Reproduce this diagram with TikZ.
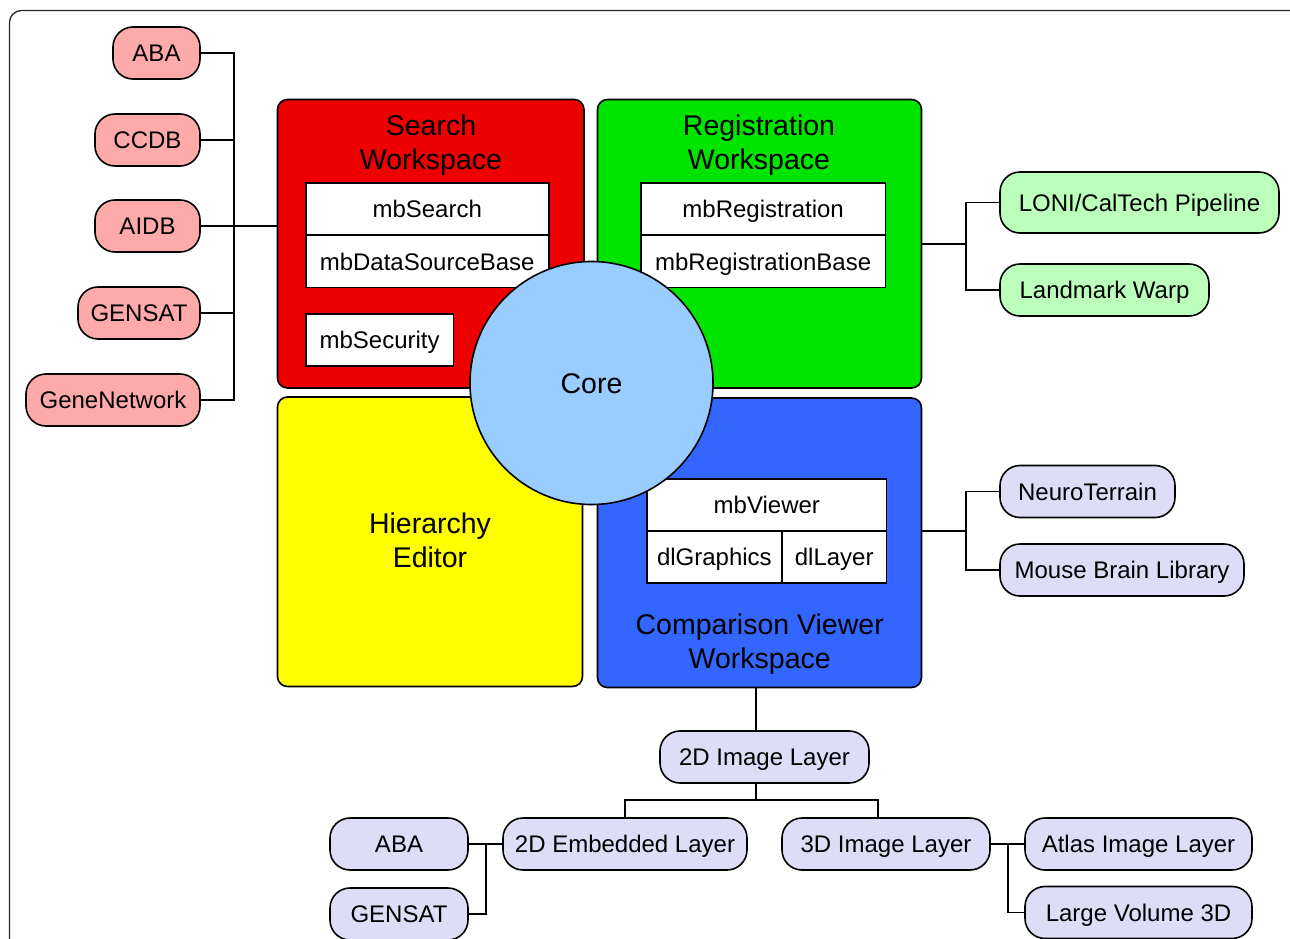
\documentclass[tikz,border=0pt]{standalone}
\usepackage{fontspec}
\setmainfont{Liberation Sans}
\definecolor{pinkfill}{HTML}{FFAAAA}
\definecolor{lgreenfill}{HTML}{BBFFBB}
\definecolor{lavfill}{HTML}{DDDDF8}
\definecolor{wsred}{HTML}{EE0000}
\definecolor{wsgreen}{HTML}{00E400}
\definecolor{wsyellow}{HTML}{FFFF00}
\definecolor{wsblue}{HTML}{3366FF}
\definecolor{corefill}{HTML}{99CCFF}
\tikzset{
  lw/.style={draw=black, line width=1.6pt},
  pill/.style={lw, rounded corners=20pt, minimum height=52pt, inner sep=0pt,
    font=\fontsize{24}{28}\selectfont, text height=17.2pt, text depth=0pt},
  pinkpill/.style={pill, fill=pinkfill},
  greenpill/.style={pill, fill=lgreenfill},
  lavpill/.style={pill, fill=lavfill},
  wsbox/.style={lw, rounded corners=10pt, inner sep=0pt},
  cell/.style={lw, fill=white, inner sep=0pt, minimum height=52pt,
    font=\fontsize{24}{28}\selectfont, text height=17.2pt, text depth=0pt},
  wstitle/.style={anchor=base, inner sep=0pt, font=\fontsize{28.5}{34}\selectfont},
  conn/.style={draw=black, line width=1.6pt},
}
\begin{document}
\begin{tikzpicture}[x=1pt,y=-1pt]
\useasboundingbox (0,0) rectangle (1290,939);
\clip (0,0) rectangle (1290,939);
% outer frame
\draw[line width=1.3pt, draw=black!85, rounded corners=12pt] (9.5,10.5) rectangle (1310,990);

% workspace boxes
\node[wsbox, fill=wsred, minimum width=306.5pt, minimum height=288.5pt] (search) at (430.75,243.75) {};
\node[wsbox, fill=wsgreen, minimum width=324pt, minimum height=288.5pt] (reg) at (759.5,243.75) {};
\node[wsbox, fill=wsyellow, minimum width=305pt, minimum height=289.5pt] (hier) at (430,541.75) {};
\node[wsbox, fill=wsblue, minimum width=324pt, minimum height=289.5pt] (cmp) at (759.5,542.75) {};

% titles
\node[wstitle] (searchT1) at (431,135.5) {Search};
\node[wstitle] (searchT2) at (431,169.5) {Workspace};
\node[wstitle] (regT1) at (759,135.5) {Registration};
\node[wstitle] (regT2) at (759,169.5) {Workspace};
\node[wstitle] (hierT1) at (430,533) {Hierarchy};
\node[wstitle] (hierT2) at (430,567.5) {Editor};
\node[wstitle] (cmpT1) at (759.7,634) {Comparison Viewer};
\node[wstitle] (cmpT2) at (759.7,668) {Workspace};

% inner cells
\node[cell, minimum width=243pt] (mbsearch) at (427.2,209.25) {mbSearch};
\node[cell, minimum width=243pt] (mbdsb) at (427.2,261.5) {mbDataSourceBase};
\node[cell, minimum width=147.7pt] (mbsec) at (379.65,340) {mbSecurity};
\node[cell, minimum width=244.3pt] (mbreg) at (763.15,209.25) {mbRegistration};
\node[cell, minimum width=244.3pt] (mbrb) at (763.15,261.5) {mbRegistrationBase};
\node[cell, minimum width=239.6pt] (mbview) at (766.8,505) {mbViewer};
\node[cell, minimum width=134.8pt] (dlg) at (714.4,556.85) {dlGraphics};
\node[cell, minimum width=104.8pt] (dll) at (834.2,556.85) {dlLayer};

% core
\node[circle, lw, fill=corefill, minimum size=243pt, inner sep=0pt,
  font=\fontsize{28.5}{34}\selectfont, text height=20.4pt, text depth=0pt] (core) at (591.5,383) {Core};

% left data sources
\node[pinkpill, minimum width=87pt] (aba) at (156.5,53) {ABA};
\node[pinkpill, minimum width=105pt] (ccdb) at (147.5,140) {CCDB};
\node[pinkpill, minimum width=105pt] (aidb) at (147.5,226) {AIDB};
\node[pinkpill, minimum width=122pt] (gensat) at (139,313) {GENSAT};
\node[pinkpill, minimum width=174pt] (gn) at (113,400) {GeneNetwork};
\coordinate (lbus) at (234,226);
\draw[conn] (aba.east) -| (lbus);
\draw[conn] (gn.east) -| (lbus);
\draw[conn] (ccdb.east) -- (ccdb.east -| lbus);
\draw[conn] (gensat.east) -- (gensat.east -| lbus);
\draw[conn] (aidb.east) -- (search.west |- aidb.east);

% right registration tools
\node[greenpill, minimum width=279pt, minimum height=61pt] (loni) at (1139.5,202.5) {LONI/CalTech Pipeline};
\node[greenpill, minimum width=209pt] (lmw) at (1104.5,290) {Landmark Warp};
\coordinate (rbus) at (966,244);
\draw[conn] (reg.east |- rbus) -- (rbus);
\draw[conn] (loni.west) -| (rbus);
\draw[conn] (lmw.west) -| (rbus);

% right viewer tools
\node[lavpill, minimum width=175pt] (nt) at (1087.5,491.5) {NeuroTerrain};
\node[lavpill, minimum width=244pt] (mbl) at (1122,570) {Mouse Brain Library};
\coordinate (cbus) at (966,531);
\draw[conn] (cmp.east |- cbus) -- (cbus);
\draw[conn] (nt.west) -| (cbus);
\draw[conn] (mbl.west) -| (cbus);

% bottom layers
\node[lavpill, minimum width=209pt] (img2d) at (764.5,757) {2D Image Layer};
\node[lavpill, minimum width=244pt] (emb) at (625,844) {2D Embedded Layer};
\node[lavpill, minimum width=208pt] (img3d) at (886,844) {3D Image Layer};
\node[lavpill, minimum width=138pt] (aba2) at (399,844) {ABA};
\node[lavpill, minimum width=138pt] (gen2) at (399,914) {GENSAT};
\node[lavpill, minimum width=227pt] (atlas) at (1138.5,844) {Atlas Image Layer};
\node[lavpill, minimum width=227pt] (lv3d) at (1138.5,912.5) {Large Volume 3D};

\coordinate (stem) at (756,800);
\draw[conn] (cmp.south -| stem) -- (img2d.north -| stem);
\draw[conn] (img2d.south -| stem) -- (stem);
\draw[conn] (emb.north) |- (stem);
\draw[conn] ([xshift=-8pt]img3d.north) |- (stem);

\coordinate (lj) at (486,844);
\draw[conn] (aba2.east) -- (emb.west);
\draw[conn] (gen2.east) -| (lj);

\coordinate (rj) at (1008,844);
\draw[conn] (img3d.east) -- (atlas.west);
\draw[conn] (lv3d.west) -| (rj);
\end{tikzpicture}
\end{document}
